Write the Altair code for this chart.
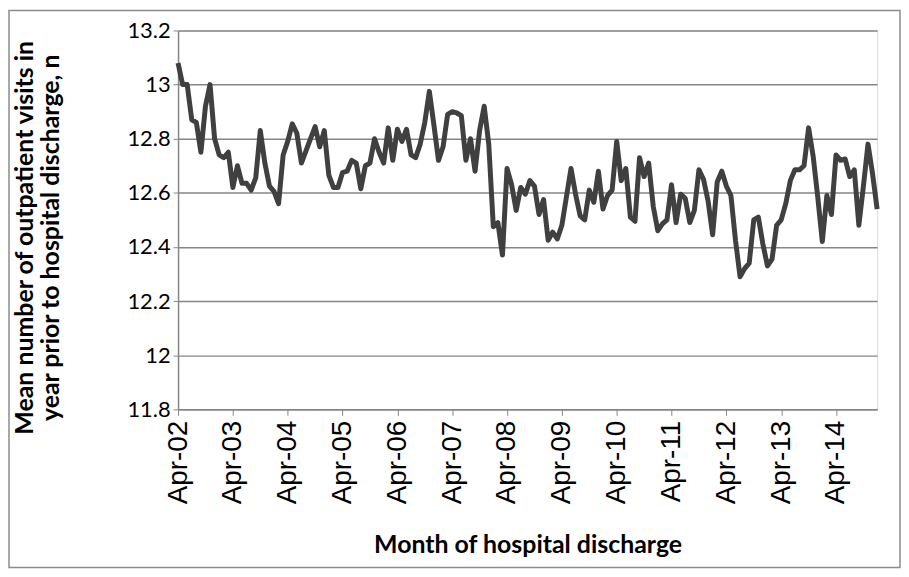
import json
import altair as alt
import pandas as pd

# Mean outpatient visits, monthly from Apr-02
values = [
    13.08, 13.00, 13.00, 12.87, 12.86, 12.75, 12.92, 13.00, 12.80, 12.74,
    12.73, 12.75, 12.62, 12.70, 12.635, 12.635, 12.61, 12.655, 12.83, 12.71,
    12.625, 12.605, 12.56, 12.74, 12.79, 12.855, 12.82, 12.71, 12.755, 12.80,
    12.845, 12.77, 12.83, 12.665, 12.62, 12.62, 12.675, 12.68, 12.72, 12.71,
    12.615, 12.70, 12.71, 12.80, 12.75, 12.71, 12.84, 12.72, 12.835, 12.79,
    12.835, 12.74, 12.73, 12.78, 12.86, 12.975, 12.85, 12.72, 12.77, 12.89,
    12.90, 12.895, 12.885, 12.72, 12.80, 12.68, 12.83, 12.92, 12.78, 12.475,
    12.49, 12.37, 12.69, 12.63, 12.535, 12.62, 12.595, 12.645, 12.625, 12.52,
    12.575, 12.425, 12.455, 12.43, 12.48, 12.585, 12.69, 12.595, 12.515, 12.50,
    12.61, 12.565, 12.68, 12.54, 12.59, 12.61, 12.79, 12.645, 12.69, 12.51,
    12.495, 12.73, 12.66, 12.71, 12.55, 12.46, 12.485, 12.50, 12.63, 12.49,
    12.595, 12.58, 12.49, 12.535, 12.685, 12.65, 12.57, 12.445, 12.64, 12.68,
    12.625, 12.59, 12.425, 12.29, 12.32, 12.34, 12.50, 12.51, 12.41, 12.33,
    12.355, 12.48, 12.50, 12.56, 12.645, 12.685, 12.685, 12.70, 12.84, 12.735,
    12.585, 12.42, 12.59, 12.52, 12.74, 12.72, 12.725, 12.66, 12.685, 12.48,
    12.625, 12.78, 12.67, 12.54,
]
month_index = list(range(len(values)))

tick_labels = ["Apr-02", "Apr-03", "Apr-04", "Apr-05", "Apr-06", "Apr-07",
               "Apr-08", "Apr-09", "Apr-10", "Apr-11", "Apr-12", "Apr-13", "Apr-14"]
tick_positions = [12 * k for k in range(len(tick_labels))]
y_ticks = [11.8, 12.0, 12.2, 12.4, 12.6, 12.8, 13.0, 13.2]

df = pd.DataFrame({"m": month_index, "v": values})

W, H = 703, 381
PL, PT, PR, PB = 171, 21, 24, 160

label_expr = json.dumps(tick_labels) + "[round(datum.value / 12)]"

line = alt.Chart(df).mark_line(color="#404040", strokeWidth=5, strokeJoin="round").encode(
    x=alt.X(
        "m:Q",
        scale=alt.Scale(domain=[0, len(values) - 1], nice=False, zero=False),
        axis=alt.Axis(
            values=tick_positions,
            labelExpr=label_expr,
            labelAngle=270,
            labelAlign="right",
            labelBaseline="middle",
            labelFont="Liberation Sans",
            labelFontSize=28,
            labelColor="#000000",
            labelPadding=5,
            tickSize=6,
            tickColor="#868686",
            domainColor="#868686",
            domainWidth=1.5,
            grid=False,
            title="Month of hospital discharge",
            titleFont="Lato",
            titleFontSize=25,
            titleFontWeight="bold",
            titleColor="#000000",
            titleBaseline="middle",
            titleX=W / 2,
            titleY=136,
        ),
    ),
    y=alt.Y(
        "v:Q",
        scale=alt.Scale(domain=[11.8, 13.2], nice=False, zero=False),
        axis=alt.Axis(
            values=y_ticks,
            format=".1~f",
            labelFont="Lato",
            labelFontSize=22,
            labelColor="#000000",
            labelPadding=3,
            tickSize=5,
            tickColor="#868686",
            domainColor="#868686",
            domainWidth=1.5,
            gridColor="#868686",
            gridWidth=1.5,
            title=["Mean number of outpatient visits in", "year prior to hospital discharge, n"],
            titleFont="Lato",
            titleFontSize=25,
            titleFontWeight="bold",
            titleColor="#000000",
            titleLineHeight=26,
            titleAngle=270,
            titleBaseline="bottom",
            titleAlign="center",
            titleX=-141,
            titleY=208,
        ),
    ),
)

border = alt.Chart(alt.Data(values=[{"k": 1}])).mark_rect(
    fillOpacity=0, stroke="#8c8c8c", strokeWidth=1.5
).encode(
    x=alt.value(-PL + 1), x2=alt.value(W + PR - 1),
    y=alt.value(-PT + 1), y2=alt.value(H + PB - 1),
)

chart = alt.layer(border, line).properties(
    width=W, height=H,
    padding={"left": PL, "top": PT, "right": PR, "bottom": PB},
    autosize=alt.AutoSizeParams(type="none"),
).configure_view(stroke=None).configure(background="white")

chart.save("out.html", embed_options={"renderer": "svg", "actions": False})
